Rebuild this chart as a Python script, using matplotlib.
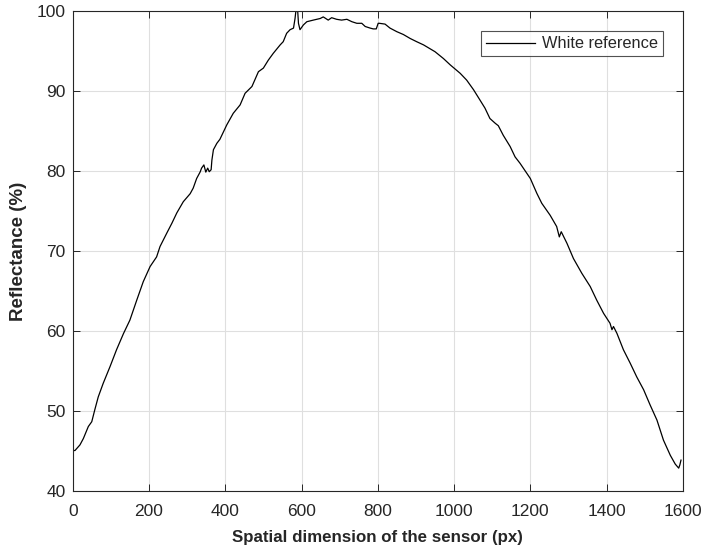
import numpy as np
import matplotlib
matplotlib.use('Agg')
import matplotlib.pyplot as plt

# white reference profile across the sensor (pixel index, reflectance %)
pixel = [0, 6, 19, 28, 41, 50, 58, 67, 80, 98, 115, 133, 150, 168, 185, 203,
         220, 229, 247, 260, 273, 290, 308, 316, 325, 334, 338, 344, 349, 354,
         358, 363, 365, 369, 378, 386, 404, 421, 439, 452, 470, 487, 500, 513,
         526, 544, 552, 561, 570, 579, 583, 587, 589, 592, 596, 605, 614, 631,
         649, 657, 670, 679, 692, 705, 719, 732, 745, 758, 767, 780, 788, 796,
         801, 804, 819, 832, 850, 867, 885, 902, 920, 950, 972, 990, 1016,
         1033, 1051, 1068, 1081, 1094, 1108, 1116, 1129, 1147, 1160, 1173,
         1200, 1217, 1230, 1252, 1269, 1276, 1281, 1296, 1313, 1335, 1357,
         1374, 1392, 1409, 1414, 1418, 1427, 1444, 1462, 1479, 1497, 1514,
         1532, 1549, 1567, 1580, 1589, 1592, 1595]
reflectance = [45.1, 45.1, 45.8, 46.6, 48.1, 48.7, 50.2, 51.8, 53.5, 55.6,
               57.7, 59.7, 61.4, 63.9, 66.2, 68.1, 69.3, 70.6, 72.3, 73.5,
               74.8, 76.2, 77.2, 77.9, 79.1, 79.9, 80.4, 80.8, 79.9, 80.4,
               79.95, 80.2, 81.4, 82.7, 83.5, 84.0, 85.8, 87.25, 88.3, 89.75,
               90.6, 92.45, 92.9, 93.9, 94.75, 95.8, 96.2, 97.25, 97.7, 97.9,
               99.1, 100.8, 100.8, 98.5, 97.7, 98.3, 98.7, 98.9, 99.1, 99.3,
               98.9, 99.2, 99.0, 98.9, 99.0, 98.7, 98.5, 98.5, 98.1, 97.9,
               97.8, 97.8, 98.5, 98.5, 98.4, 97.9, 97.45, 97.1, 96.6, 96.2,
               95.8, 94.95, 94.1, 93.3, 92.25, 91.4, 90.2, 88.9, 87.9, 86.6,
               86.0, 85.7, 84.5, 83.1, 81.8, 81.0, 79.1, 77.25, 76.0, 74.5,
               73.1, 71.8, 72.45, 71.0, 69.1, 67.25, 65.6, 63.9, 62.25, 61.0,
               60.2, 60.6, 59.75, 57.7, 56.0, 54.3, 52.7, 50.8, 48.9, 46.4,
               44.5, 43.4, 42.9, 43.3, 43.9]

xticks = [0, 200, 400, 600, 800, 1000, 1200, 1400, 1600]
yticks = [40, 50, 60, 70, 80, 90, 100]

plt.rcParams['font.family'] = ['Liberation Sans', 'DejaVu Sans']
axcol = '#262626'

fig = plt.figure(figsize=(7.03, 5.51), dpi=100)
ax = fig.add_axes([0.1034, 0.1083, 0.868, 0.8712])

ax.plot(pixel, reflectance, color='k', lw=0.9, label='White reference')

ax.set_xlim(0, 1600)
ax.set_ylim(40, 100)
ax.set_xticks(xticks)
ax.set_yticks(yticks)
ax.grid(True, color='#dfdfdf', lw=0.8)
ax.set_axisbelow(True)
ax.tick_params(direction='in', top=True, right=True, length=5, width=0.7,
               colors=axcol, labelsize=12.5, labelcolor=axcol)
ax.tick_params(axis='x', pad=9)
ax.tick_params(axis='y', pad=5)
for s in ax.spines.values():
    s.set_color(axcol)
    s.set_linewidth(0.8)

ax.set_xlabel('Spatial dimension of the sensor (px)', fontsize=12.2,
              fontweight='bold', color=axcol, labelpad=8)
ax.set_ylabel('Reflectance (%)', fontsize=13.5, fontweight='bold',
              color=axcol, labelpad=7)

leg = ax.legend(loc='upper right', bbox_to_anchor=(0.967, 0.958), fontsize=11.8,
                frameon=True, fancybox=False, handlelength=3.0,
                borderpad=0.3, handletextpad=0.4, borderaxespad=0)
leg.get_frame().set_edgecolor(axcol)
leg.get_frame().set_linewidth(0.8)
for t in leg.get_texts():
    t.set_color(axcol)

fig.savefig('out.png', dpi=100)
